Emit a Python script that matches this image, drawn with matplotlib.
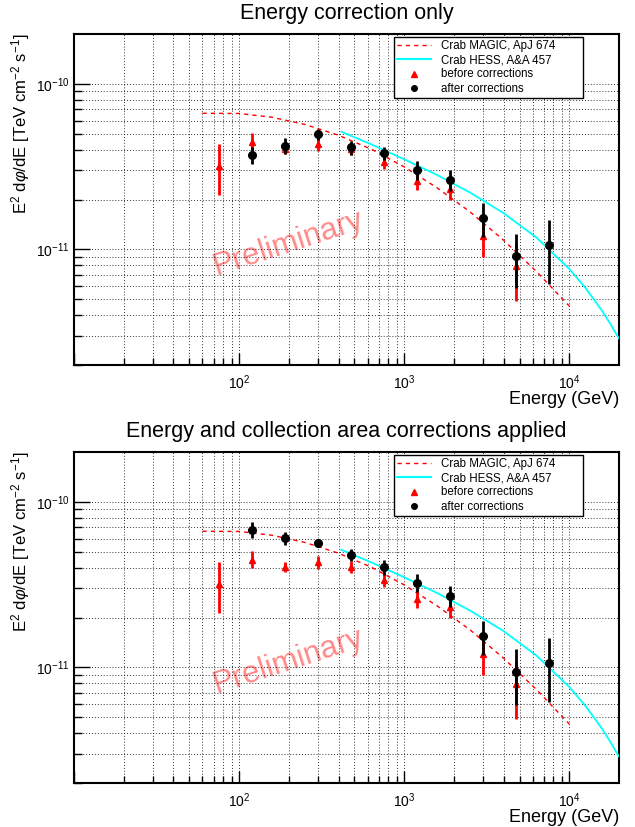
import matplotlib
matplotlib.use("Agg")
import matplotlib.pyplot as plt
from matplotlib.ticker import FixedLocator, NullFormatter, FixedFormatter
from matplotlib.lines import Line2D

plt.rcParams['font.family'] = ['Liberation Sans', 'DejaVu Sans']
plt.rcParams['mathtext.fontset'] = 'custom'
plt.rcParams['mathtext.rm'] = 'Liberation Sans'
plt.rcParams['mathtext.it'] = 'Liberation Sans:italic'
plt.rcParams['mathtext.bf'] = 'Liberation Sans:bold'

# ---------------- data ----------------
titles = ["Energy correction only", "Energy and collection area corrections applied"]

# before corrections (same in both panels)
e_before = [75.7, 120, 190, 301, 478, 757, 1200, 1900, 3010, 4780]
f_before = [3.18e-11, 4.46e-11, 4.05e-11, 4.30e-11, 4.05e-11, 3.36e-11, 2.58e-11, 2.30e-11, 1.20e-11, 7.9e-12]
err_before_lo = [1.04e-11, 0.50e-11, 0.30e-11, 0.40e-11, 0.35e-11, 0.30e-11, 0.30e-11, 0.30e-11, 0.30e-11, 0.30e-11]
err_before_hi = [1.12e-11, 0.60e-11, 0.30e-11, 0.40e-11, 0.35e-11, 0.30e-11, 0.30e-11, 0.30e-11, 0.32e-11, 0.30e-11]

# after corrections
e_after = [120, 190, 301, 478, 757, 1200, 1900, 3010, 4780, 7570]
f_after_top = [3.73e-11, 4.23e-11, 4.95e-11, 4.14e-11, 3.82e-11, 3.03e-11, 2.63e-11, 1.55e-11, 9.1e-12, 1.06e-11]
err_after_top = [0.45e-11, 0.45e-11, 0.39e-11, 0.40e-11, 0.36e-11, 0.40e-11, 0.38e-11, 0.36e-11, 0.33e-11, 0.44e-11]
f_after_bot = [6.76e-11, 6.02e-11, 5.65e-11, 4.79e-11, 4.03e-11, 3.25e-11, 2.70e-11, 1.54e-11, 9.4e-12, 1.06e-11]
err_after_bot = [0.75e-11, 0.55e-11, 0.35e-11, 0.40e-11, 0.40e-11, 0.40e-11, 0.38e-11, 0.36e-11, 0.35e-11, 0.44e-11]

# reference curves, values
e_magic = [60, 100, 158, 251, 398, 631, 1000, 1585, 2512, 3981, 6310, 10000]
f_magic = [6.64e-11, 6.62e-11, 6.28e-11, 5.68e-11, 4.90e-11, 4.03e-11, 3.15e-11, 2.35e-11, 1.68e-11, 1.14e-11, 7.36e-12, 4.54e-12]
e_hess = [417, 631, 1000, 1585, 2512, 3981, 6310, 10000, 12590, 15850, 17800, 19950]
f_hess = [5.13e-11, 4.31e-11, 3.50e-11, 2.81e-11, 2.20e-11, 1.66e-11, 1.18e-11, 7.61e-12, 5.81e-12, 4.23e-12, 3.52e-12, 2.90e-12]

legend_labels = ["Crab MAGIC, ApJ 674", "Crab HESS, A&A 457", "before corrections", "after corrections"]
xtick_vals = [100, 1000, 10000]
xtick_labels = [r"$10^{2}$", r"$10^{3}$", r"$10^{4}$"]
ytick_vals = [1e-11, 1e-10]
ytick_labels = [r"$10^{-11}$", r"$10^{-10}$"]

# ---------------- figure ----------------
W, H = 635, 827
fig = plt.figure(figsize=(W / 100, H / 100), dpi=100)

panels = [
    (34, f_after_top, err_after_top),
    (452, f_after_bot, err_after_bot),
]

x_minor = [m * 10 ** d for d in (1, 2, 3) for m in range(2, 10)]
y_minor = [m * 10 ** d for d in (-12, -11) for m in range(2, 10)]

for i, (top_px, f_after, err_after) in enumerate(panels):
    left, right, h = 74, 619, 331
    ax = fig.add_axes([left / W, 1 - (top_px + h) / H, (right - left) / W, h / H])
    ax.set_xscale('log')
    ax.set_yscale('log')
    ax.set_xlim(10, 2e4)
    ax.set_ylim(2e-12, 2e-10)

    ax.xaxis.set_major_locator(FixedLocator([10] + xtick_vals))
    ax.xaxis.set_major_formatter(FixedFormatter([""] + xtick_labels))
    ax.xaxis.set_minor_locator(FixedLocator(x_minor))
    ax.xaxis.set_minor_formatter(NullFormatter())
    ax.yaxis.set_major_locator(FixedLocator(ytick_vals))
    ax.yaxis.set_major_formatter(FixedFormatter(ytick_labels))
    ax.yaxis.set_minor_locator(FixedLocator(y_minor))
    ax.yaxis.set_minor_formatter(NullFormatter())

    ax.tick_params(which='both', direction='in', top=False, right=False,
                   labelsize=10, width=1.0)
    ax.tick_params(axis='y', which='major', length=11.5, pad=3)
    ax.tick_params(axis='y', which='minor', length=5.8)
    ax.tick_params(axis='x', which='major', length=9, pad=6)
    ax.tick_params(axis='x', which='minor', length=5)

    ax.grid(True, which='both', color='black', linestyle=(0, (1, 2)), linewidth=0.7, alpha=0.8)
    for sp in ax.spines.values():
        sp.set_linewidth(1.5)

    # preliminary watermark
    ax.text(0.393, 0.366, "Preliminary", transform=ax.transAxes, rotation=18,
            color='#ff8a8a', fontsize=22.5, ha='center', va='center', zorder=1)

    # curves
    ax.plot(e_magic, f_magic, color='red', linestyle=(0, (3, 3)), linewidth=1.0, zorder=3)
    ax.plot(e_hess, f_hess, color='cyan', linewidth=1.3, zorder=3)

    # points
    ax.errorbar(e_before, f_before, yerr=[err_before_lo, err_before_hi], fmt='^', color='red',
                markersize=5, elinewidth=2, capsize=0, zorder=4)
    ax.errorbar(e_after, f_after, yerr=err_after, fmt='o', color='black',
                markersize=5.5, elinewidth=2, capsize=0, zorder=5)

    handles = [
        Line2D([], [], color='red', linestyle=(0, (3, 3)), linewidth=1.0),
        Line2D([], [], color='cyan', linewidth=1.5),
        Line2D([], [], color='red', marker='^', linestyle='none', markersize=4),
        Line2D([], [], color='black', marker='o', linestyle='none', markersize=4),
    ]
    x0 = (394 - left) / (right - left)
    wl = (583 - 394) / (right - left)
    leg = ax.legend(handles, legend_labels, loc='upper left',
                    bbox_to_anchor=(x0, 0.5, wl, 1 - 3 / h - 0.5), mode='expand',
                    fontsize=8.3, frameon=True, fancybox=False, framealpha=1,
                    edgecolor='black', borderpad=0.25, labelspacing=0.2,
                    handlelength=3.0, handleheight=0.6, handletextpad=0.8,
                    borderaxespad=0)
    leg.get_frame().set_linewidth(1.0)
    leg.set_zorder(10)

    ax.set_ylabel(r"E$^{2}$ d$\varphi$/dE [TeV cm$^{-2}$ s$^{-1}$]", fontsize=12, loc='top')
    ax.yaxis.set_label_coords((32 - left) / (right - left), 1.0)
    ax.set_xlabel("Energy (GeV)", fontsize=13, loc='right')
    ax.xaxis.set_label_coords(1.0, -26 / h)

    title_y = 13 if i == 0 else 431
    fig.text((left + right) / 2 / W, 1 - title_y / H, titles[i], fontsize=15.5,
             ha='center', va='center')

fig.savefig("out.png", dpi=100, facecolor='white')
